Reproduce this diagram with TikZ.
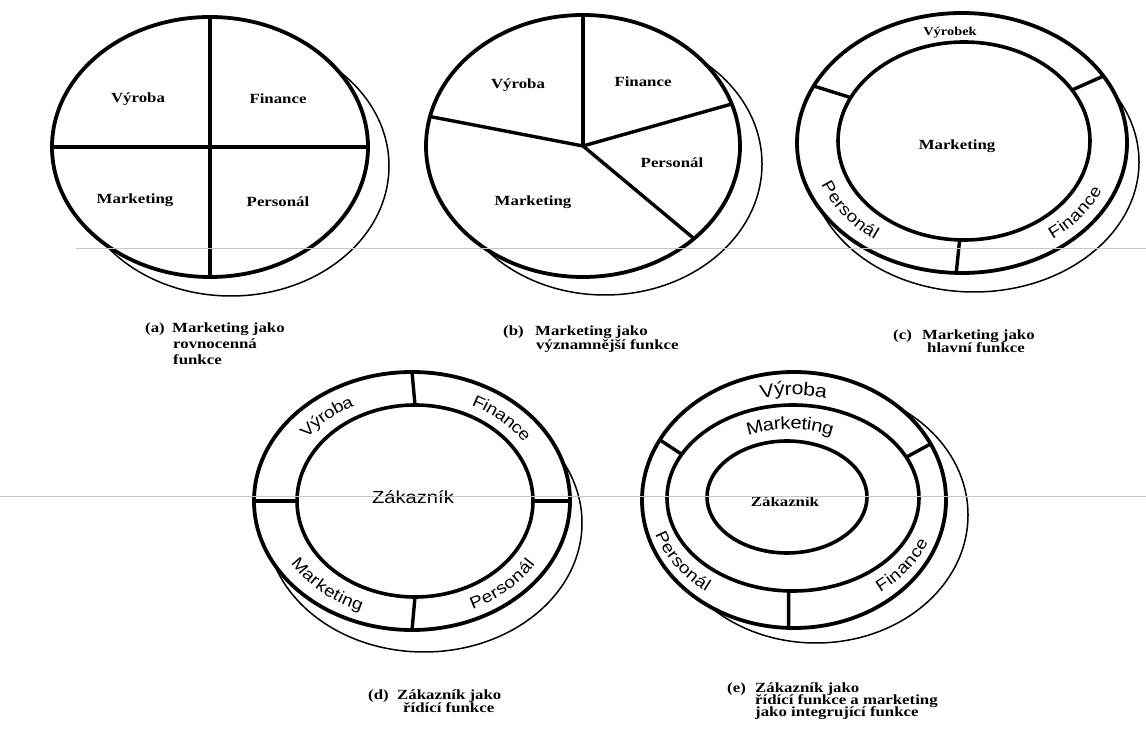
\documentclass[tikz,border=0pt]{standalone}
\usepackage{fontspec}
\setmainfont{Liberation Serif}
\newfontfamily\capf[FakeStretch=1.2]{Liberation Serif}
\newfontfamily\ringf[FakeStretch=1.15]{Liberation Sans}
\usetikzlibrary{calc,decorations.text}
\newcommand\arctext[8]{% center, rx, ry, start, end, text, size, raise
  \path[decorate, decoration={text along path,
      text={|\ringf\fontsize{#7}{#7}\selectfont|#6},
      text align=center, raise=#8}]
    ($(#1)+(#4:#2 and #3)$) arc[start angle=#4, end angle=#5, x radius=#2, y radius=#3];
}
\tikzset{
  mainell/.style={line width=3.8pt, fill=white},
  ringell/.style={line width=3.6pt},
  shad/.style={line width=1.5pt},
  spoke/.style={line width=3.4pt},
  lbl/.style={font=\capf\bfseries\fontsize{14}{16}\selectfont, inner sep=0pt},
  lblsmall/.style={font=\capf\bfseries\fontsize{12}{14}\selectfont, inner sep=0pt},
  captxt/.style={font=\capf\bfseries\fontsize{14}{16}\selectfont, inner sep=0pt, anchor=base west},
  sanslbl/.style={font=\ringf\fontsize{17.5}{19}\selectfont, inner sep=0pt},
  scan/.style={line width=0.8pt, black!22},
}
\begin{document}
\begin{tikzpicture}[x=1pt,y=1pt]
\useasboundingbox (0,0) rectangle (1146,731);
\fill[white] (0,0) rectangle (1146,731);

% ---------- (a) ----------
\coordinate (cA) at (210,584);
\draw[shad] ($(cA)+(21,-19)$) ellipse [x radius=158, y radius=130];
\draw[mainell] (cA) ellipse [x radius=158, y radius=130];
\coordinate (aT) at ($(cA)+(90:158 and 130)$);
\coordinate (aB) at ($(cA)+(270:158 and 130)$);
\coordinate (aL) at ($(cA)+(180:158 and 130)$);
\coordinate (aR) at ($(cA)+(0:158 and 130)$);
\draw[spoke] (aT) -- (aB);
\draw[spoke] (aL) -- (aR);
\node[lbl] (aV) at (138,632) {Výroba};
\node[lbl] (aF) at (278,632) {Finance};
\node[lbl] (aM) at (135,531) {Marketing};
\node[lbl] (aP) at (278,529) {Personál};

% ---------- (b) ----------
\coordinate (cB) at (583,585);
\draw[shad] ($(cB)+(22,-18)$) ellipse [x radius=157, y radius=131];
\draw[mainell] (cB) ellipse [x radius=157, y radius=131];
\coordinate (bT) at ($(cB)+(90:157 and 131)$);
\coordinate (bL) at ($(cB)+(167:157 and 131)$);
\coordinate (bR) at ($(cB)+(18.7:157 and 131)$);
\coordinate (bD) at ($(cB)+(-45:157 and 131)$);
\draw[spoke] (cB) -- (bT);
\draw[spoke] (cB) -- (bL);
\draw[spoke] (cB) -- (bR);
\draw[spoke] (cB) -- (bD);
\node[lbl] (bV) at (518,646) {Výroba};
\node[lbl] (bF) at (643,649) {Finance};
\node[lbl] (bP) at (672,568) {Personál};
\node[lbl] (bM) at (533,529) {Marketing};

% ---------- (c) ----------
\coordinate (cC) at (962,588);
\coordinate (cCi) at (964,590);
\coordinate (cCm) at (963,589);
\draw[shad] ($(cC)+(12,-19)$) ellipse [x radius=165, y radius=130];
\draw[mainell] (cC) ellipse [x radius=165, y radius=130];
\draw[ringell] (cCi) ellipse [x radius=126, y radius=99];
\coordinate (cs1o) at ($(cC)+(154:165 and 130)$);
\coordinate (cs1i) at ($(cCi)+(154:126 and 99)$);
\coordinate (cs2o) at ($(cC)+(31:165 and 130)$);
\coordinate (cs2i) at ($(cCi)+(31:126 and 99)$);
\coordinate (cs3o) at ($(cC)+(268:165 and 130)$);
\coordinate (cs3i) at ($(cCi)+(268:126 and 99)$);
\draw[spoke] (cs1o) -- (cs1i);
\draw[spoke] (cs2o) -- (cs2i);
\draw[spoke] (cs3o) -- (cs3i);
\node[lblsmall] (cV) at (950,698) {Výrobek};
\node[lbl] (cM) at (957,585) {Marketing};
\arctext{cCm}{145.5}{114.5}{175}{255}{Personál}{16.5}{-6pt}
\arctext{cCm}{145.5}{114.5}{284}{364}{Finance}{16.5}{-6pt}

% ---------- (d) ----------
\coordinate (cD) at (412,230);
\coordinate (cDi) at (415,230);
\coordinate (cDm) at (413.5,230);
\draw[shad] ($(cD)+(12,-22)$) ellipse [x radius=158, y radius=129];
\draw[mainell] (cD) ellipse [x radius=158, y radius=129];
\draw[ringell] (cDi) ellipse [x radius=118, y radius=96];
\foreach \t/\n in {90/1,180/2,0/3,270/4}{
  \coordinate (ds\n o) at ($(cD)+(\t:158 and 129)$);
  \coordinate (ds\n i) at ($(cDi)+(\t:118 and 96)$);
  \draw[spoke] (ds\n o) -- (ds\n i);
}
\node[sanslbl] (dZ) at (413,234) {Zákazník};
\arctext{cDm}{138}{112.5}{172}{92}{Výroba}{16.5}{-6pt}
\arctext{cDm}{138}{112.5}{87}{7}{Finance}{16.5}{-6pt}
\arctext{cDm}{138}{112.5}{188}{268}{Marketing}{16.5}{-6pt}
\arctext{cDm}{138}{112.5}{273}{353}{Personál}{16.5}{-6pt}

% ---------- (e) ----------
\coordinate (cE) at (794,231);
\coordinate (cEm) at (793,233);
\coordinate (cEi) at (787,234);
\coordinate (cEr1) at (793.5,232);
\coordinate (cEr2) at (790,233.5);
\draw[shad] ($(cE)+(22,-15)$) ellipse [x radius=152, y radius=128];
\draw[mainell] (cE) ellipse [x radius=152, y radius=128];
\draw[ringell] (cEm) ellipse [x radius=126, y radius=93];
\draw[ringell] (cEi) ellipse [x radius=80, y radius=56];
\coordinate (es1o) at ($(cE)+(152:152 and 128)$);
\coordinate (es1i) at ($(cEm)+(152:126 and 93)$);
\coordinate (es2o) at ($(cE)+(26:152 and 128)$);
\coordinate (es2i) at ($(cEm)+(26:126 and 93)$);
\coordinate (es3o) at ($(cE)+(268:152 and 128)$);
\coordinate (es3i) at ($(cEm)+(268:126 and 93)$);
\draw[spoke] (es1o) -- (es1i);
\draw[spoke] (es2o) -- (es2i);
\draw[spoke] (es3o) -- (es3i);
\node[lbl] (eZ) at (785,229) {Zákazník};
\arctext{cEr1}{139}{110.5}{125}{55}{Výroba}{18.5}{-6.5pt}
\arctext{cEr2}{103}{74.5}{145}{35}{Marketing}{17.5}{-6pt}
\arctext{cEr1}{139}{110.5}{173}{253}{Personál}{16.5}{-6pt}
\arctext{cEr1}{139}{110.5}{285}{365}{Finance}{16.5}{-6pt}

% ---------- captions ----------
\node[captxt] (ca0) at (145,398.5) {(a)};
\node[captxt] (ca1) at (172,398.5) {Marketing jako};
\node[captxt] (ca2) at (173,382.5) {rovnocenná};
\node[captxt] (ca3) at (173,366.5) {funkce};

\node[captxt] (cb0) at (503,395.5) {(b)};
\node[captxt] (cb1) at (535,395.5) {Marketing jako};
\node[captxt] (cb2) at (536,381.5) {významnější funkce};

\node[captxt] (cc0) at (893,391.5) {(c)};
\node[captxt] (cc1) at (922,391.5) {Marketing jako};
\node[captxt] (cc2) at (927,378.5) {hlavní funkce};

\node[captxt] (cd0) at (368,31.5) {(d)};
\node[captxt] (cd1) at (397,31.5) {Zákazník jako};
\node[captxt] (cd2) at (403,18.5) {řídící funkce};

\node[captxt] (ce0) at (727,38.5) {(e)};
\node[captxt] (ce1) at (755,38.5) {Zákazník jako};
\node[captxt] (ce2) at (755,26.5) {řídící funkce a marketing};
\node[captxt] (ce3) at (755,14.5) {jako integrující funkce};

% ---------- faint scan lines ----------
\coordinate (g1a) at (76,483);
\coordinate (g1b) at (1146,483);
\coordinate (g2a) at (0,235);
\coordinate (g2b) at (1146,235);
\draw[scan] (g1a) -- (g1b);
\draw[scan] (g2a) -- (g2b);
\end{tikzpicture}
\end{document}
